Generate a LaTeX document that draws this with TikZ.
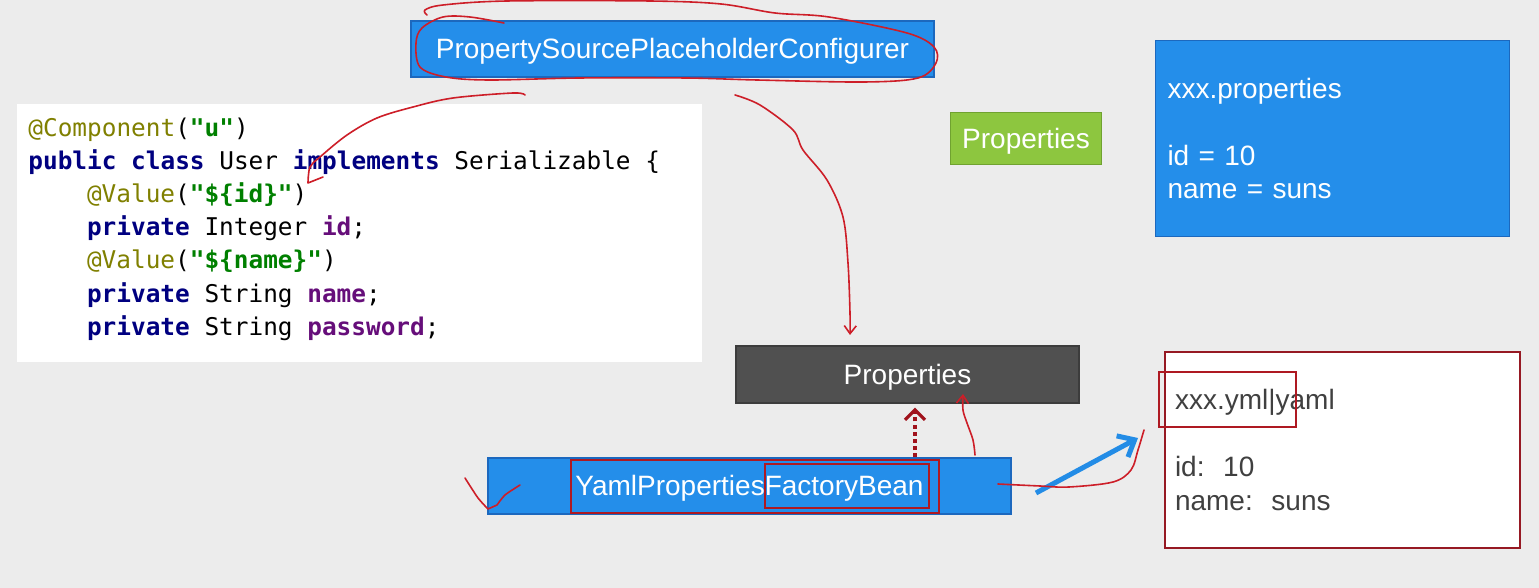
\documentclass[tikz,border=0pt]{standalone}
\usepackage{fontspec}
\setmainfont{Liberation Sans}
\newfontfamily\codefont{DejaVu Sans Mono}
\usetikzlibrary{arrows.meta,positioning,calc}
\definecolor{slidebg}{RGB}{236,236,236}
\definecolor{boxblue}{RGB}{36,142,234}
\definecolor{boxblueedge}{RGB}{28,104,190}
\definecolor{boxgreen}{RGB}{141,198,63}
\definecolor{boxgreenedge}{RGB}{112,162,48}
\definecolor{boxdark}{RGB}{80,80,80}
\definecolor{boxdarkedge}{RGB}{60,60,60}
\definecolor{penred}{RGB}{205,30,40}
\definecolor{dotred}{RGB}{160,18,28}
\definecolor{yamlframe}{RGB}{150,25,35}
\definecolor{yamltext}{RGB}{64,64,64}
\definecolor{arrowblue}{RGB}{35,140,230}
\definecolor{kwnavy}{RGB}{0,0,128}
\definecolor{annolive}{RGB}{128,128,0}
\definecolor{strgreen}{RGB}{0,128,0}
\definecolor{fldpurple}{RGB}{102,14,122}
\newcommand{\kw}[1]{{\bfseries\color{kwnavy}#1}}
\newcommand{\an}[1]{{\color{annolive}#1}}
\newcommand{\st}[1]{{\bfseries\color{strgreen}#1}}
\newcommand{\fd}[1]{{\bfseries\color{fldpurple}#1}}
\tikzset{
  box/.style={draw, line width=0.6pt, inner sep=0pt, text=white,
    font=\fontsize{14}{16.7}\selectfont},
  onebox/.style={box, text height=10pt, text depth=0pt},
  bluebox/.style={onebox, draw=boxblueedge, fill=boxblue, minimum width=261.5pt, minimum height=28pt},
  greenbox/.style={onebox, draw=boxgreenedge, fill=boxgreen, minimum width=75.5pt, minimum height=26pt},
  darkbox/.style={onebox, draw=boxdarkedge, fill=boxdark, minimum width=171.5pt, minimum height=28.5pt},
  filebox/.style={box, align=left, minimum height=98pt},
  codebox/.style={fill=white, inner sep=0pt, minimum width=342.5pt, minimum height=129pt},
  codeline/.style={anchor=base west, inner sep=0pt, font=\codefont\fontsize{12.2}{14}\selectfont},
  redframe/.style={draw=penred!85!black, line width=0.75pt},
  redpen/.style={penred, line width=0.8pt, line cap=round, line join=round},
  penarr/.style={redpen, -{Straight Barb[length=4pt, width=6pt]}},
  dotarr/.style={dotred, line width=2pt, dash pattern=on 2pt off 1.6pt,
    -{Straight Barb[length=5pt, width=10pt, line width=1.6pt]}, shorten >=2pt},
  bluearr/.style={arrowblue, line width=2.5pt, -{Straight Barb[length=7pt, width=12pt]}},
}
\begin{document}
\begin{tikzpicture}[x=0.5pt, y=-0.5pt]
\useasboundingbox (0,0) rectangle (1539,588);
\fill[slidebg] (0,0) rectangle (1539,588);

% boxes of the slide
\node[bluebox] (pspc) at (672.5,49) {PropertySourcePlaceholderConfigurer};
\node[greenbox] (propsgreen) at (1026,138.5) {Properties};
\node[filebox, draw=boxblueedge, fill=boxblue, inner xsep=6pt, text width=165pt]
  (propfile) at (1332.5,138.5)
  {xxx.properties\\[16.7pt]id = 10\\name = suns};
\node[darkbox] (props) at (907.5,374.5) {Properties};
\node[bluebox] (ypfb) at (749.5,486) {YamlPropertiesFactoryBean};
\node[filebox, draw=yamlframe, fill=white, text=yamltext, inner xsep=5pt, text width=167.5pt]
  (yamlfile) at (1342.5,450)
  {xxx.yml|yaml\\[16.7pt]id:\ \ 10\\name:\ \ suns};

% code
\node[codebox] (code) at (359.5,233) {};
\node[codeline] (c1) at (28,137) {\an{@Component}(\st{"u"})};
\node[codeline] (c2) at (28,170) {\kw{public} \kw{class} User \kw{implements} Serializable \{};
\node[codeline] (c3) at (86.6,203) {\an{@Value}(\st{"\$\{id\}"})};
\node[codeline] (c4) at (86.6,236) {\kw{private} Integer \fd{id};};
\node[codeline] (c5) at (86.6,269) {\an{@Value}(\st{"\$\{name\}"})};
\node[codeline] (c6) at (86.6,303) {\kw{private} String \fd{name};};
\node[codeline] (c7) at (86.6,336) {\kw{private} String \fd{password};};

% frames drawn over the slide
\draw[redframe] (571,460) rectangle (939,513);
\draw[redframe] (765,464) rectangle (929,508);
\draw[redframe] (1159,372) rectangle (1296,427);

% arrows
\coordinate (dx) at (915,0);
\draw[dotarr] (ypfb.north -| dx) -- (props.south -| dx);
\coordinate (bstart) at (1036,493);
\coordinate (bend) at (1138,438);
\draw[bluearr] (bstart) -- (bend);

% strokes by hand
\draw[redpen] plot[smooth, tension=0.55] coordinates {(504,23) (470,17) (443,17) (422,28) (416,43)
  (420,67) (446,77) (489,80) (579,78) (686,78) (757,80) (864,82) (918,78) (936,63) (934,47)
  (907,33) (829,17) (775,13) (721,4) (650,1) (507,1) (443,5) (425,10) (427,15)};
\draw[redpen] plot[smooth, tension=0.55] coordinates {(525,95) (513,93) (453,98) (413,107)
  (377,118) (347,135) (320,157) (310,167) (308,183)} -- (323,177);
\draw[penarr] plot[smooth, tension=0.55] coordinates {(735,95) (760,105) (793,130) (803,150)
  (827,180) (843,217) (848,263) (850,313) (850,335)};
\draw[penarr] plot[smooth, tension=0.55] coordinates {(975,455) (973,440) (967,423) (963,410) (963,394)};
\draw[redpen] plot[smooth, tension=0.55] coordinates {(998,484) (1040,486) (1069,487) (1113,482)
  (1131,470) (1138,450) (1144,430)};
\draw[redpen] plot[smooth, tension=0.4] coordinates {(465,478) (478,498) (488,509)} -- (497,505)
  plot[smooth, tension=0.4] coordinates {(497,505) (505,495) (520,485)};
\end{tikzpicture}
\end{document}
